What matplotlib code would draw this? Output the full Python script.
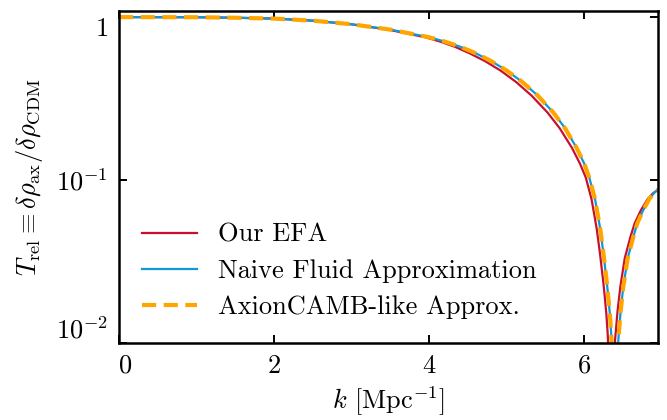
import matplotlib
matplotlib.use('Agg')
import matplotlib.pyplot as plt

plt.rcParams['font.family'] = 'serif'
plt.rcParams['font.serif'] = ['cmr10', 'DejaVu Serif']
plt.rcParams['mathtext.fontset'] = 'cm'
plt.rcParams['axes.unicode_minus'] = False
plt.rcParams['axes.formatter.use_mathtext'] = True

# Relative axion/CDM density transfer function vs wavenumber k [1/Mpc]
k_fluid = [0.0, 1.0, 1.5, 2.0, 2.5, 3.0, 3.5, 3.75, 4.0, 4.2, 4.4, 4.6,
           4.8, 5.0, 5.2, 5.4, 5.6, 5.75, 5.9, 6.0, 6.065, 6.14, 6.206,
           6.25, 6.297, 6.33, 6.348, 6.37, 6.39, 6.41, 6.439, 6.47, 6.503,
           6.56, 6.632, 6.684, 6.76, 6.84, 6.9, 6.95]
T_fluid = [1.0, 0.998, 0.991, 0.979, 0.951, 0.904, 0.838, 0.794, 0.752,
           0.708, 0.658, 0.6, 0.537, 0.47, 0.4, 0.33, 0.26, 0.209, 0.158,
           0.126, 0.1035, 0.0759, 0.0501, 0.0347, 0.0221, 0.0151, 0.0112,
           0.0063, 0.0025, 0.0056, 0.0104, 0.0158, 0.0221, 0.0331, 0.0447,
           0.0543, 0.0653, 0.0767, 0.0832, 0.0875]

k_camb = [0.0, 1.0, 1.5, 2.0, 2.5, 3.0, 3.5, 3.75, 4.0, 4.2, 4.4, 4.6,
          4.8, 5.0, 5.2, 5.4, 5.6, 5.75, 5.9, 6.0, 6.065, 6.14, 6.206,
          6.25, 6.297, 6.33, 6.348, 6.37, 6.39, 6.41, 6.439, 6.47, 6.503,
          6.56, 6.632, 6.684, 6.76, 6.84, 6.9, 6.95]
T_camb = [1.0, 0.998, 0.991, 0.979, 0.951, 0.904, 0.838, 0.794, 0.752,
          0.708, 0.658, 0.6, 0.537, 0.47, 0.4, 0.33, 0.26, 0.209, 0.158,
          0.126, 0.1035, 0.0759, 0.0501, 0.0347, 0.0221, 0.0151, 0.0112,
          0.0063, 0.0025, 0.0056, 0.0104, 0.0158, 0.0221, 0.0331, 0.0447,
          0.0543, 0.0653, 0.0767, 0.0832, 0.0875]

k_efa = [0.0, 1.0, 1.5, 2.0, 2.5, 2.99, 3.47, 3.71, 3.95, 4.14, 4.33, 4.52,
         4.72, 4.92, 5.12, 5.32, 5.525, 5.68, 5.84, 5.945, 6.02, 6.095,
         6.161, 6.205, 6.252, 6.285, 6.303, 6.325, 6.345, 6.367, 6.397,
         6.43, 6.465, 6.522, 6.595, 6.65, 6.73, 6.82, 6.89, 6.95]
T_efa = [1.0, 0.998, 0.991, 0.979, 0.951, 0.904, 0.838, 0.794, 0.752,
         0.708, 0.658, 0.6, 0.537, 0.47, 0.4, 0.33, 0.26, 0.209, 0.158,
         0.126, 0.1035, 0.0759, 0.0501, 0.0347, 0.0221, 0.0151, 0.0112,
         0.0063, 0.0025, 0.0056, 0.0104, 0.0158, 0.0221, 0.0331, 0.0447,
         0.0543, 0.0653, 0.0767, 0.0832, 0.087]

xticks = [0, 2, 4, 6]
yticks = [0.01, 0.1, 1]
ytick_labels = ['$10^{-2}$', '$10^{-1}$', '$1$']

FS = 19

fig = plt.figure(figsize=(6.67, 4.2), dpi=100)
ax = fig.add_axes([0.1784, 0.1833, 0.808, 0.7905])

ax.plot(k_efa, T_efa, color='#C8102E', lw=1.6, label='Our EFA')
ax.plot(k_fluid, T_fluid, color='#1199D5', lw=1.6, label='Naive Fluid Approximation')
ax.plot(k_camb, T_camb, color='#FFA500', lw=3.0, dashes=(3.4, 1.8),
        label='AxionCAMB-like Approx.')

ax.set_yscale('log')
ax.set_xlim(0, 6.95)
ax.set_ylim(0.01, 1.09)
ax.set_xticks(xticks)
ax.set_xticklabels([str(t) for t in xticks])
ax.set_yticks(yticks)
ax.set_yticklabels(ytick_labels)
ax.minorticks_off()

ax.tick_params(direction='in', length=6, width=1.4, labelsize=FS,
               top=True, right=True, pad=8)
for s in ax.spines.values():
    s.set_linewidth(1.8)

# keep edge labels inside the frame
xl = ax.get_xticklabels()
xl[0].set_horizontalalignment('left')
yl = ax.get_yticklabels()
yl[0].set_verticalalignment('bottom')
yl[-1].set_verticalalignment('top')

ax.set_xlabel('$k$ [Mpc$^{-1}$]', fontsize=FS, labelpad=5)
ax.set_ylabel(r'$T_\mathrm{rel} \equiv \delta\rho_\mathrm{ax}/\delta\rho_\mathrm{CDM}$',
              fontsize=FS, labelpad=8)

ax.legend(loc='upper left', bbox_to_anchor=(0.023, 0.393), borderaxespad=0,
          frameon=False, fontsize=FS, handlelength=2.1, handletextpad=0.8,
          labelspacing=0.47)

fig.savefig('out.png', dpi=100)
